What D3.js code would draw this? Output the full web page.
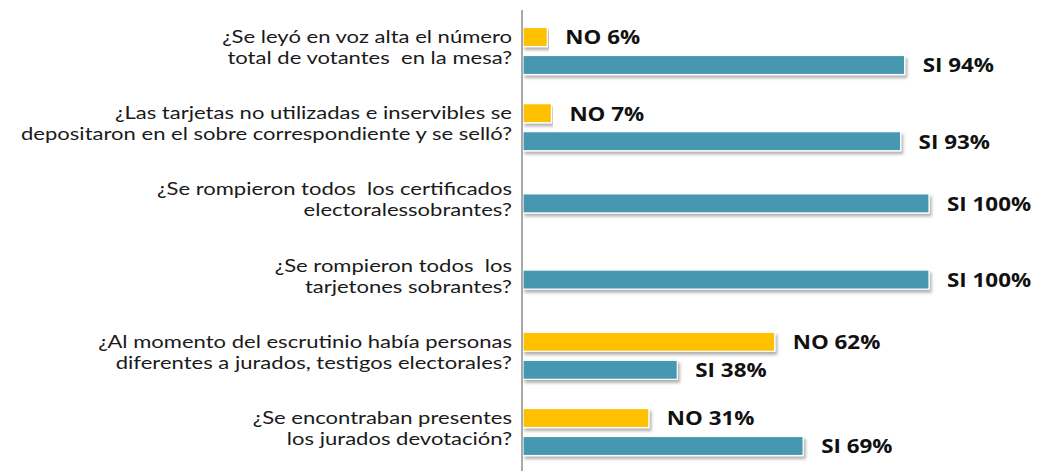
<!DOCTYPE html>
<html>
<head>
<meta charset="utf-8">
<title>Escrutinio</title>
<style>
  body { margin: 0; background: #fff; }
  svg { display: block; }
  .question { font-family: Lato, "Open Sans", sans-serif; font-size: 17.5px; fill: #1a1a1a; }
  .value { font-family: "Open Sans", Lato, sans-serif; font-size: 20px; font-weight: bold; fill: #111; }
</style>
</head>
<body>
<div id="chart"></div>
<script src="https://d3js.org/d3.v7.min.js"></script>
<script>
// questions (two lines each)
var questions = [
  ["¿Se leyó en voz alta el número", "total de votantes  en la mesa?"],
  ["¿Las tarjetas no utilizadas e inservibles se", "depositaron en el sobre correspondiente y se selló?"],
  ["¿Se rompieron todos  los certificados", "electoralessobrantes?"],
  ["¿Se rompieron todos  los", "tarjetones sobrantes?"],
  ["¿Al momento del escrutinio había personas", "diferentes a jurados, testigos electorales?"],
  ["¿Se encontraban presentes", "los jurados devotación?"]
];
var series = ["NO", "SI"];
var noValues = [6, 7, 0, 0, 62, 31];
var siValues = [94, 93, 100, 100, 38, 69];

var width = 1037, height = 471;
var colors = { NO: "#FFC000", SI: "#4498B0" };

var svg = d3.select("#chart").append("svg")
  .attr("width", width)
  .attr("height", height);

// soft drop shadow like the office chart
var defs = svg.append("defs");
var f = defs.append("filter").attr("id", "shadow")
  .attr("x", "-5%").attr("y", "-30%").attr("width", "110%").attr("height", "180%");
f.append("feDropShadow")
  .attr("dx", 2).attr("dy", 3).attr("stdDeviation", 1.5)
  .attr("flood-color", "#000").attr("flood-opacity", 0.3);

var x = d3.scaleLinear().domain([0, 100]).range([522, 928]);
var y = d3.scalePoint().domain(d3.range(questions.length)).range([51, 432]);

var rows = questions.map(function(q, i) {
  return { i: i, lines: q, values: { NO: noValues[i], SI: siValues[i] } };
});

var groups = svg.selectAll(".row")
  .data(rows)
  .enter().append("g")
  .attr("class", "row")
  .attr("transform", function(d) { return "translate(0," + y(d.i) + ")"; });

groups.each(function(d) {
  var g = d3.select(this);
  // only the answers that have a value get a bar
  var present = series.filter(function(s) { return d.values[s] > 0; });
  var inner = d3.scaleBand()
    .domain(present)
    .range([-14 * present.length, 14 * present.length])
    .paddingInner(0.32)
    .paddingOuter(0.16);

  var bars = present.map(function(s) { return { key: s, value: d.values[s] }; });

  g.selectAll("rect")
    .data(bars)
    .enter().append("rect")
    .attr("x", x(0) + 1)
    .attr("y", function(b) { return inner(b.key); })
    .attr("width", function(b) { return x(b.value) - x(0); })
    .attr("height", inner.bandwidth())
    .attr("fill", function(b) { return colors[b.key]; })
    .attr("stroke", "#fff")
    .attr("stroke-width", 1.2)
    .attr("filter", "url(#shadow)");

  // the original text is a bit stretched sideways, hence the scale
  g.selectAll("text.value")
    .data(bars)
    .enter().append("text")
    .attr("class", "value")
    .attr("transform", function(b) {
      return "translate(" + (x(b.value) + 19) + "," + (inner(b.key) + inner.bandwidth() / 2 + 2) + ") scale(1.12,1)";
    })
    .attr("dominant-baseline", "middle")
    .text(function(b) { return b.key + " " + b.value + "%"; });

  var t = g.append("text")
    .attr("class", "question")
    .attr("text-anchor", "end")
    .attr("xml:space", "preserve")
    .attr("transform", "translate(512,0) scale(1.26,1)");
  t.selectAll("tspan")
    .data(d.lines)
    .enter().append("tspan")
    .attr("x", 0)
    .attr("y", function(l, k) { return (k - 0.5) * 21 - 2; })
    .attr("dominant-baseline", "middle")
    .text(function(l) { return l; });
});

// vertical axis line
svg.append("line")
  .attr("x1", x(0)).attr("x2", x(0))
  .attr("y1", 10).attr("y2", height)
  .attr("stroke", "#8c8c8c")
  .attr("stroke-width", 1.5);
</script>
</body>
</html>
